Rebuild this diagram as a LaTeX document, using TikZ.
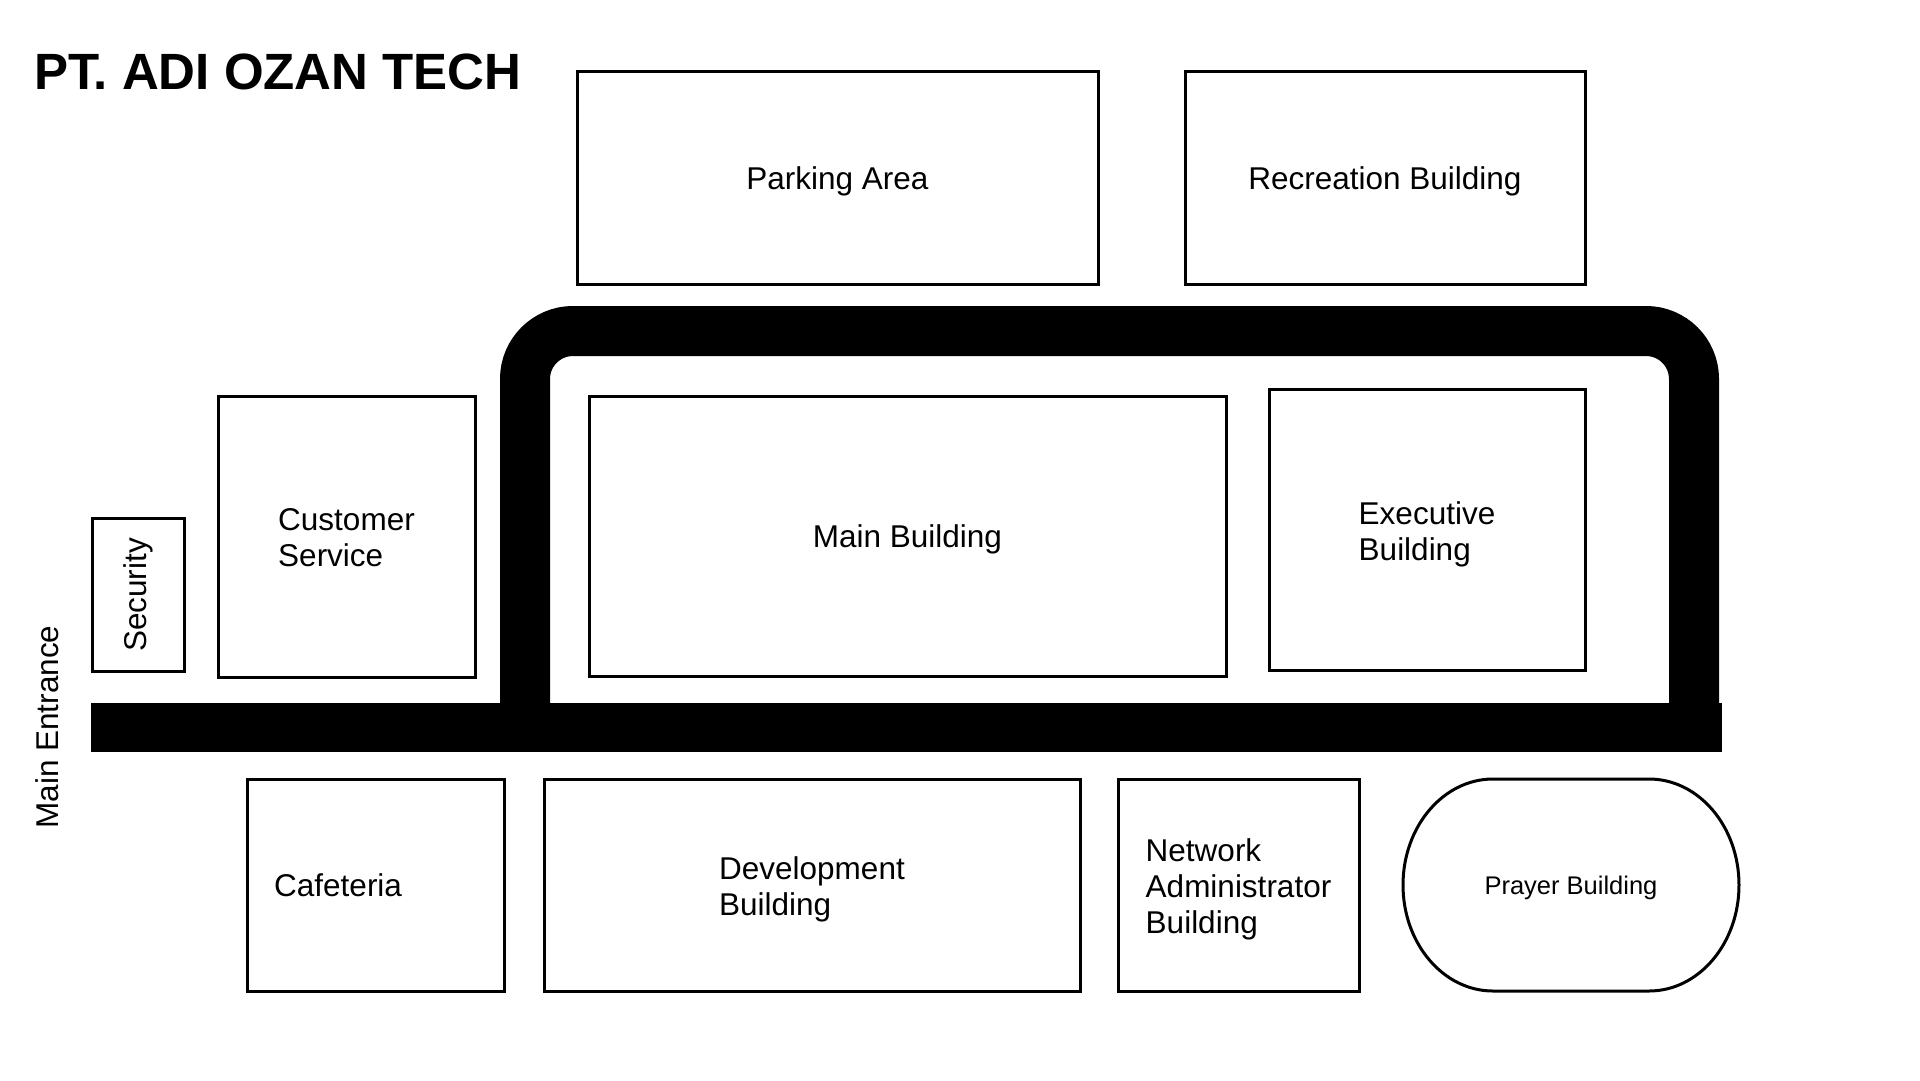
\documentclass[tikz,border=0pt]{standalone}
\usepackage{fontspec}
\setmainfont{Liberation Sans}
\begin{document}
\begin{tikzpicture}[x=1pt,y=-1pt,
  bldg/.style={draw=black, line width=3pt, fill=white, inner sep=0pt},
  lbl/.style={inner sep=0pt, align=left, font=\fontsize{31.5}{36}\selectfont},
  road/.style={draw=black, line width=50pt}]
\useasboundingbox[fill=white] (0,0) rectangle (1920,1080);

% title
\node[anchor=base west, inner sep=0pt, font=\bfseries\fontsize{51}{60}\selectfont]
  (title) at (34,89) {PT. ADI OZAN TECH};

% roads
\fill[black] (91,703) rectangle (1722,752);
\draw[road, rounded corners=48pt] (525,728) -- (525,331) -- (1694,331) -- (1694,728);

% top row
\node[bldg, minimum width=521pt, minimum height=213pt] (park) at (837.5,177.5) {};
\node[lbl, yshift=-4pt] (parktxt) at (park) {Parking Area};
\node[bldg, minimum width=400pt, minimum height=213pt] (recr) at (1385,177.5) {};
\node[lbl, yshift=-4pt] (recrtxt) at (recr) {Recreation Building};

% middle row
\node[bldg, minimum width=92pt, minimum height=153pt] (secbox) at (138.5,595) {};
\node[lbl, rotate=90] (sec) at (secbox.center) {Security};
\node[bldg, minimum width=257pt, minimum height=281pt] (cust) at (346.5,536.5) {};
\node[lbl, yshift=-1.5pt] (custtxt) at (cust) {Customer\\Service};
\node[bldg, minimum width=637pt, minimum height=280pt] (main) at (907.5,536) {};
\node[lbl, yshift=-3pt] (maintxt) at (main) {Main Building};
\node[bldg, minimum width=316pt, minimum height=281pt] (exec) at (1427,529.5) {};
\node[lbl, yshift=-4.5pt] (exectxt) at (exec) {Executive\\Building};

% entrance label
\node[lbl, rotate=90] (entr) at (47,727) {Main Entrance};

% bottom row
\node[bldg, minimum width=257pt, minimum height=212pt] (cafe) at (375.5,885) {};
\node[lbl, anchor=west] (cafetxt) at (274,885) {Cafeteria};
\node[bldg, minimum width=536pt, minimum height=212pt] (dev) at (812,885) {};
\node[lbl, yshift=-4pt] (devtxt) at (dev) {Development\\Building};
\node[bldg, minimum width=241pt, minimum height=212pt] (net) at (1238.5,885) {};
\node[lbl, yshift=-4pt] (nettxt) at (net) {Network\\Administrator\\Building};

% prayer building outline
\draw[line width=3pt] (1493,779) -- (1649,779)
  arc[start angle=-90, end angle=90, x radius=90, y radius=106]
  -- (1493,991)
  arc[start angle=90, end angle=270, x radius=90, y radius=106] -- cycle;
\node[lbl, font=\fontsize{25.5}{30}\selectfont, yshift=-3pt] (pray) at (1571,885) {Prayer Building};
\end{tikzpicture}
\end{document}
